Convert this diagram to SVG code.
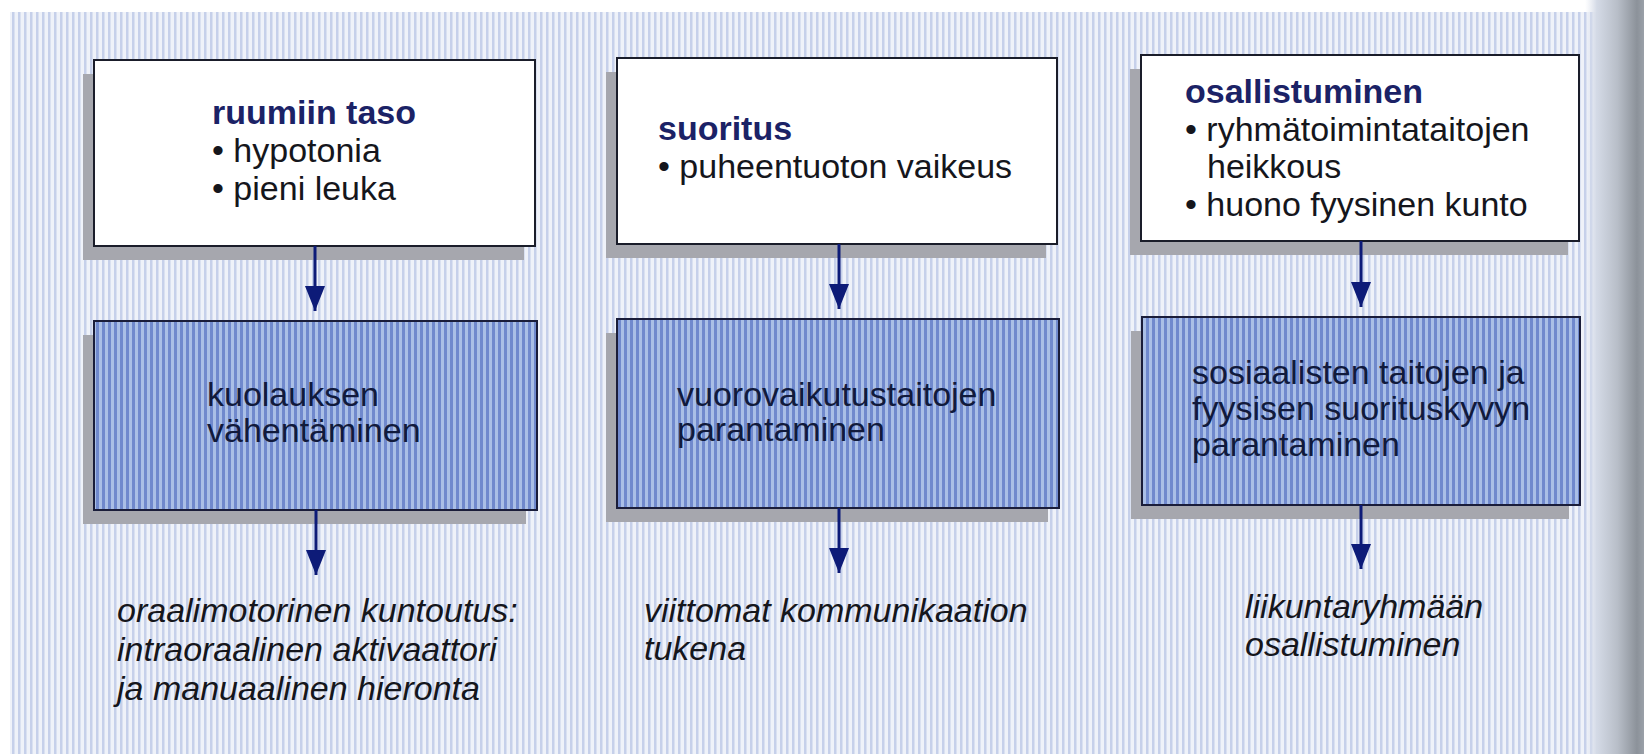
<svg xmlns="http://www.w3.org/2000/svg" width="1644" height="754" viewBox="0 0 1644 754">
<defs>
<pattern id="bgStripe" x="0" y="0" width="6" height="10" patternUnits="userSpaceOnUse">
<rect width="6" height="10" fill="#eff2f9"/>
<rect x="0" width="2.5" height="10" fill="#c6d0ea"/>
</pattern>
<pattern id="blueStripe" x="0" y="0" width="6" height="10" patternUnits="userSpaceOnUse">
<rect width="6" height="10" fill="#aabfe6"/>
<rect x="0" width="3" height="10" fill="#7089cd"/>
</pattern>
<linearGradient id="edge" x1="0" y1="0" x2="1" y2="0">
<stop offset="0" stop-color="#dfe4ef" stop-opacity="0"/>
<stop offset="0.2" stop-color="#d4dae6"/>
<stop offset="0.55" stop-color="#b8bec8"/>
<stop offset="0.88" stop-color="#8c929a"/>
<stop offset="1" stop-color="#9aa0a8"/>
</linearGradient>
<marker id="arr" viewBox="0 0 25 20" refX="25" refY="10" markerWidth="25" markerHeight="20" markerUnits="userSpaceOnUse" orient="auto">
<path d="M0,0 L25,10 L0,20 Z" fill="#0d1b78"/>
</marker>
</defs>
<style>
.shadow{fill:#a6a7ae}
.wbox{fill:#ffffff;stroke:#1a1d2a;stroke-width:2}
.bbox{fill:url(#blueStripe);stroke:#1a1d3a;stroke-width:2}
.t{font-family:"Liberation Sans",Arial,sans-serif;font-size:34px;fill:#15161c}
.h{font-weight:bold;fill:#1b2266}
.bt{fill:#111a3c}
.it{font-style:italic;fill:#15161c}
.conn line{stroke:#0d1b78;stroke-width:3}
</style>
<rect width="1644" height="754" fill="#ffffff"/>
<rect x="10" y="12" width="1600" height="742" fill="url(#bgStripe)"/>
<rect x="1585" y="0" width="59" height="754" fill="url(#edge)"/>

<g id="node-ruumiin">
<rect class="shadow" x="83" y="74" width="441" height="186"/>
<rect class="wbox" x="94" y="60" width="441" height="186"/>
<text class="t" x="212" y="124"><tspan class="h">ruumiin taso</tspan><tspan x="212" dy="38">• hypotonia</tspan><tspan x="212" dy="38">• pieni leuka</tspan></text>
</g>
<g id="node-suoritus">
<rect class="shadow" x="606" y="72" width="440" height="186"/>
<rect class="wbox" x="617" y="58" width="440" height="186"/>
<text class="t" x="658" y="140"><tspan class="h">suoritus</tspan><tspan x="658" dy="38">• puheentuoton vaikeus</tspan></text>
</g>
<g id="node-osallistuminen">
<rect class="shadow" x="1130" y="69" width="438" height="186"/>
<rect class="wbox" x="1141" y="55" width="438" height="186"/>
<text class="t" x="1185" y="103"><tspan class="h">osallistuminen</tspan><tspan x="1185" dy="38">• ryhmätoimintataitojen</tspan><tspan x="1207" dy="37">heikkous</tspan><tspan x="1185" dy="38">• huono fyysinen kunto</tspan></text>
</g>

<g id="node-kuolaus">
<rect class="shadow" x="83" y="335" width="443" height="189"/>
<rect class="bbox" x="94" y="321" width="443" height="189"/>
<text class="t bt" x="207" y="406"><tspan>kuolauksen</tspan><tspan x="207" dy="36">vähentäminen</tspan></text>
</g>
<g id="node-vuorovaikutus">
<rect class="shadow" x="606" y="333" width="442" height="189"/>
<rect class="bbox" x="617" y="319" width="442" height="189"/>
<text class="t bt" x="677" y="406"><tspan>vuorovaikutustaitojen</tspan><tspan x="677" dy="35">parantaminen</tspan></text>
</g>
<g id="node-sosiaaliset">
<rect class="shadow" x="1131" y="331" width="438" height="188"/>
<rect class="bbox" x="1142" y="317" width="438" height="188"/>
<text class="t bt" x="1192" y="384"><tspan>sosiaalisten taitojen ja</tspan><tspan x="1192" dy="36">fyysisen suorituskyvyn</tspan><tspan x="1192" dy="36">parantaminen</tspan></text>
</g>

<g id="node-kuntoutus">
<text class="t it" x="117" y="622"><tspan>oraalimotorinen kuntoutus:</tspan><tspan x="117" dy="39">intraoraalinen aktivaattori</tspan><tspan x="117" dy="39">ja manuaalinen hieronta</tspan></text>
</g>
<g id="node-viittomat">
<text class="t it" x="644" y="622"><tspan>viittomat kommunikaation</tspan><tspan x="644" dy="38">tukena</tspan></text>
</g>
<g id="node-liikunta">
<text class="t it" x="1245" y="618"><tspan>liikuntaryhmään</tspan><tspan x="1245" dy="38">osallistuminen</tspan></text>
</g>

<g id="connectors" class="conn">
<line x1="315" y1="246" x2="315" y2="311" marker-end="url(#arr)"/>
<line x1="839" y1="244" x2="839" y2="309" marker-end="url(#arr)"/>
<line x1="1361" y1="241" x2="1361" y2="307" marker-end="url(#arr)"/>
<line x1="316" y1="510" x2="316" y2="575" marker-end="url(#arr)"/>
<line x1="839" y1="508" x2="839" y2="573" marker-end="url(#arr)"/>
<line x1="1361" y1="505" x2="1361" y2="569" marker-end="url(#arr)"/>
</g>
</svg>
